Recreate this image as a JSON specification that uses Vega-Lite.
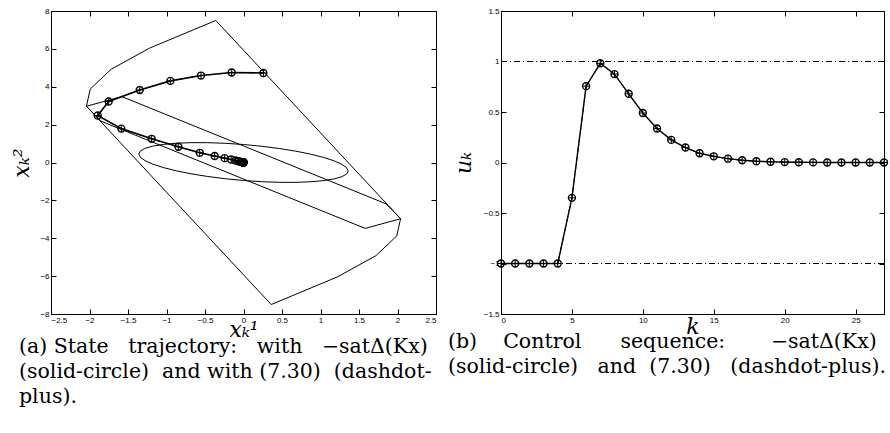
{
  "$schema": "https://vega.github.io/schema/vega-lite/v6.json",
  "background": "white",
  "padding": {"left": 10, "top": 6, "right": 0, "bottom": 0},
  "autosize": {"type": "pad"},
  "bounds": "flush",
  "spacing": 65,
  "config": {
    "view": {"stroke": "black", "strokeWidth": 1},
    "axis": {
      "domainColor": "black", "tickColor": "black", "labelColor": "black",
      "labelFont": "Liberation Sans", "labelFontSize": 8, "grid": false,
      "tickSize": -5, "labelPadding": 7,
      "titleFont": "DejaVu Serif", "titleFontStyle": "italic", "titleFontWeight": "normal",
      "titleFontSize": 22, "titleColor": "black"
    },
    "title": {
      "font": "DejaVu Serif", "fontSize": 20.5, "fontWeight": "normal", "color": "black",
      "lineHeight": 25, "orient": "bottom", "anchor": "start", "frame": "group"
    }
  },
  "datasets": {
    "poly": [
      {"shape": "outer", "i": 0, "x": -0.36, "y": 7.5},
      {"shape": "outer", "i": 1, "x": 2.04, "y": -2.97},
      {"shape": "outer", "i": 2, "x": 1.99, "y": -3.88},
      {"shape": "outer", "i": 3, "x": 1.72, "y": -4.92},
      {"shape": "outer", "i": 4, "x": 1.22, "y": -6.04},
      {"shape": "outer", "i": 5, "x": 0.36, "y": -7.5},
      {"shape": "outer", "i": 6, "x": -2.04, "y": 2.97},
      {"shape": "outer", "i": 7, "x": -1.99, "y": 3.88},
      {"shape": "outer", "i": 8, "x": -1.72, "y": 4.92},
      {"shape": "outer", "i": 9, "x": -1.22, "y": 6.04},
      {"shape": "outer", "i": 10, "x": -0.36, "y": 7.5},
      {"shape": "inner", "i": 0, "x": -1.58, "y": 3.48},
      {"shape": "inner", "i": 1, "x": 1.85, "y": -2.18},
      {"shape": "inner", "i": 2, "x": 2.04, "y": -2.97},
      {"shape": "inner", "i": 3, "x": 1.58, "y": -3.48},
      {"shape": "inner", "i": 4, "x": -1.85, "y": 2.18},
      {"shape": "inner", "i": 5, "x": -2.04, "y": 2.97},
      {"shape": "inner", "i": 6, "x": -1.58, "y": 3.48}
    ],
    "ellipse": [
      {"i": 0, "x": 1.36, "y": -0.45}, {"i": 1, "x": 1.339, "y": -0.278},
      {"i": 2, "x": 1.278, "y": -0.098}, {"i": 3, "x": 1.178, "y": 0.085},
      {"i": 4, "x": 1.042, "y": 0.266}, {"i": 5, "x": 0.874, "y": 0.439},
      {"i": 6, "x": 0.68, "y": 0.598}, {"i": 7, "x": 0.465, "y": 0.739},
      {"i": 8, "x": 0.236, "y": 0.858}, {"i": 9, "x": 0, "y": 0.95},
      {"i": 10, "x": -0.236, "y": 1.014}, {"i": 11, "x": -0.465, "y": 1.047},
      {"i": 12, "x": -0.68, "y": 1.048}, {"i": 13, "x": -0.874, "y": 1.017},
      {"i": 14, "x": -1.042, "y": 0.956}, {"i": 15, "x": -1.178, "y": 0.865},
      {"i": 16, "x": -1.278, "y": 0.748}, {"i": 17, "x": -1.339, "y": 0.608},
      {"i": 18, "x": -1.36, "y": 0.45}, {"i": 19, "x": -1.339, "y": 0.278},
      {"i": 20, "x": -1.278, "y": 0.098}, {"i": 21, "x": -1.178, "y": -0.085},
      {"i": 22, "x": -1.042, "y": -0.266}, {"i": 23, "x": -0.874, "y": -0.439},
      {"i": 24, "x": -0.68, "y": -0.598}, {"i": 25, "x": -0.465, "y": -0.739},
      {"i": 26, "x": -0.236, "y": -0.858}, {"i": 27, "x": 0, "y": -0.95},
      {"i": 28, "x": 0.236, "y": -1.014}, {"i": 29, "x": 0.465, "y": -1.047},
      {"i": 30, "x": 0.68, "y": -1.048}, {"i": 31, "x": 0.874, "y": -1.017},
      {"i": 32, "x": 1.042, "y": -0.956}, {"i": 33, "x": 1.178, "y": -0.865},
      {"i": 34, "x": 1.278, "y": -0.748}, {"i": 35, "x": 1.339, "y": -0.608},
      {"i": 36, "x": 1.36, "y": -0.45}
    ],
    "traj": [
      {"k": 0, "x": 0.258, "y": 4.73}, {"k": 1, "x": -0.154, "y": 4.75},
      {"k": 2, "x": -0.552, "y": 4.59}, {"k": 3, "x": -0.95, "y": 4.31},
      {"k": 4, "x": -1.348, "y": 3.83}, {"k": 5, "x": -1.751, "y": 3.22},
      {"k": 6, "x": -1.894, "y": 2.48}, {"k": 7, "x": -1.587, "y": 1.79},
      {"k": 8, "x": -1.193, "y": 1.25}, {"k": 9, "x": -0.846, "y": 0.83},
      {"k": 10, "x": -0.569, "y": 0.51}, {"k": 11, "x": -0.374, "y": 0.34},
      {"k": 12, "x": -0.245, "y": 0.23}, {"k": 13, "x": -0.16, "y": 0.155},
      {"k": 14, "x": -0.104, "y": 0.103}, {"k": 15, "x": -0.068, "y": 0.068},
      {"k": 16, "x": -0.044, "y": 0.045}, {"k": 17, "x": -0.029, "y": 0.03},
      {"k": 18, "x": -0.019, "y": 0.02}, {"k": 19, "x": -0.012, "y": 0.013},
      {"k": 20, "x": -0.008, "y": 0.008}, {"k": 21, "x": -0.005, "y": 0.005},
      {"k": 22, "x": -0.003, "y": 0.003}, {"k": 23, "x": -0.002, "y": 0.002},
      {"k": 24, "x": -0.001, "y": 0.001}, {"k": 25, "x": -0.001, "y": 0.001},
      {"k": 26, "x": 0, "y": 0}, {"k": 27, "x": 0, "y": 0}
    ],
    "ctrl": [
      {"k": 0, "u": -1}, {"k": 1, "u": -1}, {"k": 2, "u": -1}, {"k": 3, "u": -1},
      {"k": 4, "u": -1}, {"k": 5, "u": -0.35}, {"k": 6, "u": 0.756}, {"k": 7, "u": 0.982},
      {"k": 8, "u": 0.875}, {"k": 9, "u": 0.68}, {"k": 10, "u": 0.49}, {"k": 11, "u": 0.337},
      {"k": 12, "u": 0.224}, {"k": 13, "u": 0.148}, {"k": 14, "u": 0.091}, {"k": 15, "u": 0.061},
      {"k": 16, "u": 0.038}, {"k": 17, "u": 0.022}, {"k": 18, "u": 0.012}, {"k": 19, "u": 0.008},
      {"k": 20, "u": 0.004}, {"k": 21, "u": 0.002}, {"k": 22, "u": 0.001}, {"k": 23, "u": 0},
      {"k": 24, "u": 0}, {"k": 25, "u": 0}, {"k": 26, "u": 0}, {"k": 27, "u": 0}
    ],
    "limits": [{"level": 1}, {"level": -1}]
  },
  "hconcat": [
    {
      "width": 385, "height": 303,
      "title": {"text": ["(a) State\u00a0\u00a0 trajectory:\u00a0\u00a0 with\u00a0\u00a0 −satΔ(Kx)", "(solid-circle)\u00a0 and with (7.30)\u00a0 (dashdot-", "plus)."], "dx": -32, "offset": -3},
      "resolve": {"axis": {"x": "independent", "y": "independent"}},
      "layer": [
        {
          "data": {"name": "poly"},
          "mark": {"type": "line", "color": "black", "strokeWidth": 1},
          "encoding": {
            "x": {"field": "x", "type": "quantitative", "scale": {"domain": [-2.5, 2.5], "nice": false, "zero": false},
                  "axis": {"orient": "bottom", "values": [-2.5, -2, -1.5, -1, -0.5, 0, 0.5, 1, 1.5, 2, 2.5], "format": "~g", "title": "xₖ¹", "titlePadding": -5}},
            "y": {"field": "y", "type": "quantitative", "scale": {"domain": [-8, 8], "nice": false, "zero": false},
                  "axis": {"orient": "left", "values": [-8, -6, -4, -2, 0, 2, 4, 6, 8], "format": "~g", "title": "xₖ²", "titlePadding": 6}},
            "detail": {"field": "shape"},
            "order": {"field": "i"}
          }
        },
        {
          "data": {"name": "ellipse"},
          "mark": {"type": "line", "color": "black", "strokeWidth": 1},
          "encoding": {
            "x": {"field": "x", "type": "quantitative", "axis": null},
            "y": {"field": "y", "type": "quantitative", "axis": null},
            "order": {"field": "i"}
          }
        },
        {
          "data": {"name": "traj"},
          "mark": {"type": "line", "color": "black", "strokeWidth": 1.6},
          "encoding": {
            "x": {"field": "x", "type": "quantitative", "axis": null},
            "y": {"field": "y", "type": "quantitative", "axis": null},
            "order": {"field": "k"}
          }
        },
        {
          "data": {"name": "traj"},
          "mark": {"type": "line", "color": "black", "strokeWidth": 1, "strokeDash": [5, 2, 1, 2]},
          "encoding": {
            "x": {"field": "x", "type": "quantitative", "axis": null},
            "y": {"field": "y", "type": "quantitative", "axis": null},
            "order": {"field": "k"}
          }
        },
        {
          "data": {"name": "traj"},
          "mark": {"type": "point", "shape": "circle", "filled": false, "color": "black", "strokeWidth": 1.4, "size": 49, "opacity": 1},
          "encoding": {
            "x": {"field": "x", "type": "quantitative", "axis": null},
            "y": {"field": "y", "type": "quantitative", "axis": null}
          }
        },
        {
          "data": {"name": "traj"},
          "mark": {"type": "point", "shape": "M-1,0H1M0,-1V1", "filled": false, "color": "black", "strokeWidth": 1, "size": 49, "opacity": 1},
          "encoding": {
            "x": {"field": "x", "type": "quantitative", "axis": null},
            "y": {"field": "y", "type": "quantitative", "axis": null}
          }
        },
        {
          "data": {"name": "traj"},
          "mark": {"type": "point", "opacity": 0},
          "encoding": {
            "x": {"field": "x", "type": "quantitative", "axis": {"orient": "top", "values": [-2.5, -2, -1.5, -1, -0.5, 0, 0.5, 1, 1.5, 2, 2.5], "labels": false, "title": null}},
            "y": {"field": "y", "type": "quantitative", "axis": {"orient": "right", "values": [-8, -6, -4, -2, 0, 2, 4, 6, 8], "labels": false, "title": null}}
          }
        }
      ]
    },
    {
      "width": 383, "height": 303,
      "title": {"text": ["(b)\u00a0\u00a0\u00a0\u00a0Control\u00a0\u00a0\u00a0\u00a0\u00a0\u00a0sequence:\u00a0\u00a0\u00a0\u00a0\u00a0\u00a0\u00a0−satΔ(Kx)", "(solid-circle)\u00a0\u00a0 and\u00a0 (7.30)\u00a0\u00a0 (dashdot-plus)."], "dx": -53, "offset": -5},
      "resolve": {"axis": {"x": "independent", "y": "independent"}},
      "layer": [
        {
          "data": {"name": "limits"},
          "mark": {"type": "rule", "color": "black", "strokeWidth": 1, "strokeDash": [6, 3, 1, 3]},
          "encoding": {
            "y": {"field": "level", "type": "quantitative", "axis": null}
          }
        },
        {
          "data": {"name": "ctrl"},
          "mark": {"type": "line", "color": "black", "strokeWidth": 1.4},
          "encoding": {
            "x": {"field": "k", "type": "quantitative", "scale": {"domain": [0, 27], "nice": false, "zero": false},
                  "axis": {"orient": "bottom", "values": [0, 5, 10, 15, 20, 25], "format": "~g", "title": "k", "titlePadding": -8}},
            "y": {"field": "u", "type": "quantitative", "scale": {"domain": [-1.5, 1.5], "nice": false, "zero": false},
                  "axis": {"orient": "left", "values": [-1.5, -1, -0.5, 0, 0.5, 1, 1.5], "format": "~g", "title": "uₖ", "titlePadding": 8}}
          }
        },
        {
          "data": {"name": "ctrl"},
          "mark": {"type": "line", "color": "black", "strokeWidth": 1, "strokeDash": [5, 2, 1, 2]},
          "encoding": {
            "x": {"field": "k", "type": "quantitative", "axis": null},
            "y": {"field": "u", "type": "quantitative", "axis": null}
          }
        },
        {
          "data": {"name": "ctrl"},
          "mark": {"type": "point", "shape": "circle", "filled": false, "color": "black", "strokeWidth": 1.4, "size": 49, "opacity": 1},
          "encoding": {
            "x": {"field": "k", "type": "quantitative", "axis": null},
            "y": {"field": "u", "type": "quantitative", "axis": null}
          }
        },
        {
          "data": {"name": "ctrl"},
          "mark": {"type": "point", "shape": "M-1,0H1M0,-1V1", "filled": false, "color": "black", "strokeWidth": 1, "size": 49, "opacity": 1},
          "encoding": {
            "x": {"field": "k", "type": "quantitative", "axis": null},
            "y": {"field": "u", "type": "quantitative", "axis": null}
          }
        },
        {
          "data": {"name": "ctrl"},
          "mark": {"type": "point", "opacity": 0},
          "encoding": {
            "x": {"field": "k", "type": "quantitative", "axis": {"orient": "top", "values": [0, 5, 10, 15, 20, 25], "labels": false, "title": null}},
            "y": {"field": "u", "type": "quantitative", "axis": {"orient": "right", "values": [-1.5, -1, -0.5, 0, 0.5, 1, 1.5], "labels": false, "title": null}}
          }
        }
      ]
    }
  ]
}
